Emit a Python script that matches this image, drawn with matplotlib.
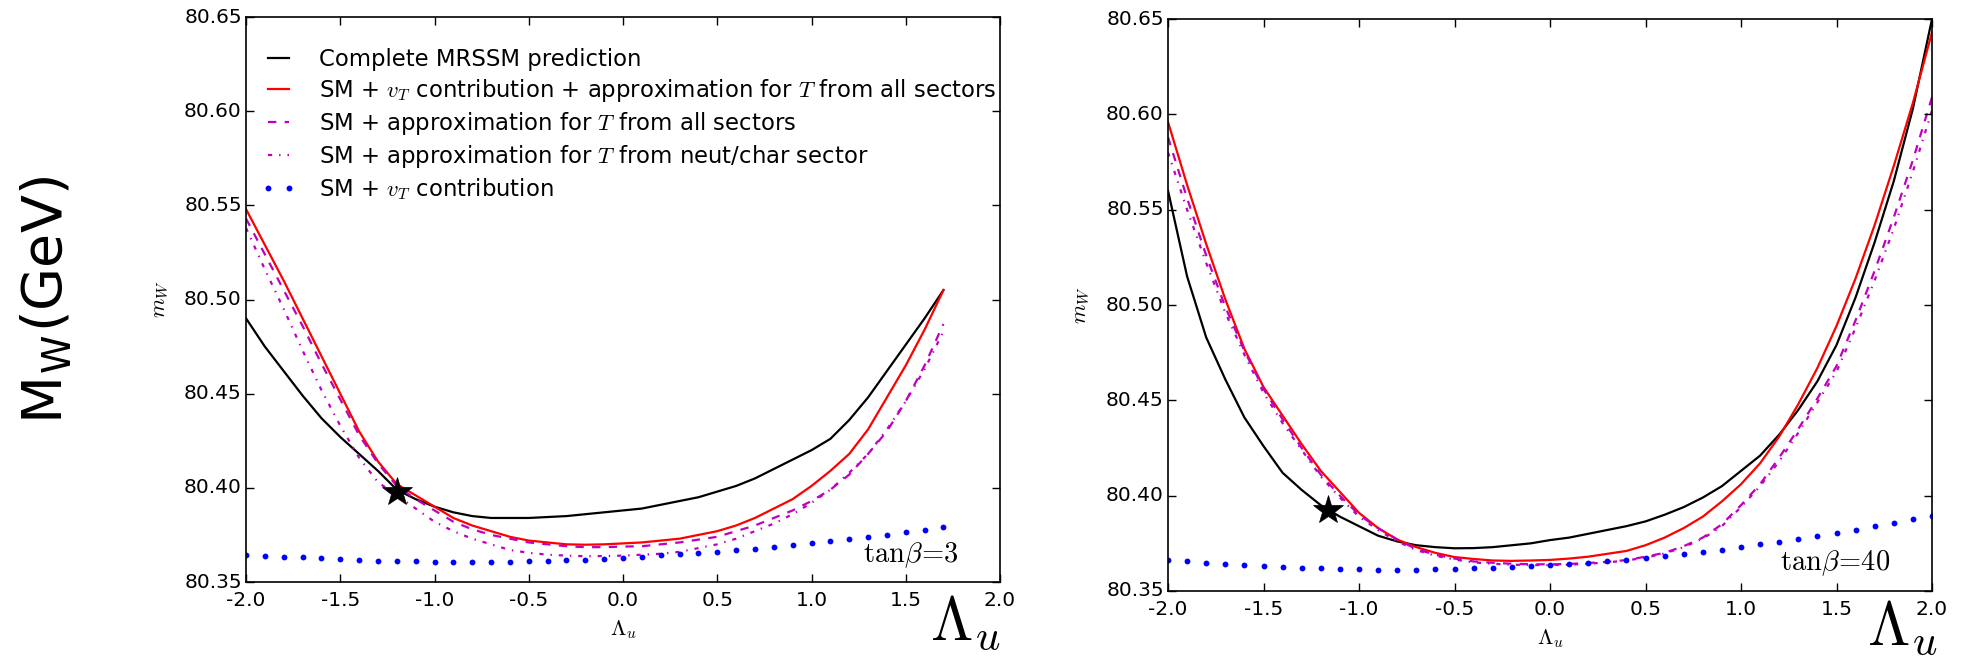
import numpy as np
import matplotlib
matplotlib.use('Agg')
import matplotlib.pyplot as plt

plt.style.use('classic')
plt.rcParams['font.family'] = ['DejaVu Sans']
plt.rcParams['mathtext.fontset'] = 'cm'

# tan(beta) = 3 scan, Lambda_u from -2.0 to 1.7
lam_3 = np.round(np.arange(-2.0, 1.71, 0.1), 1)
mw_full_3 = [80.490, 80.475, 80.462, 80.449, 80.437, 80.427, 80.418, 80.409, 80.399, 80.394,
             80.390, 80.387, 80.385, 80.384, 80.384, 80.384, 80.3845, 80.385, 80.386, 80.387,
             80.388, 80.389, 80.391, 80.393, 80.395, 80.398, 80.401, 80.405, 80.410, 80.415,
             80.420, 80.426, 80.436, 80.448, 80.462, 80.476, 80.490, 80.505]
mw_vt_all_3 = [80.548, 80.529, 80.510, 80.490, 80.470, 80.450, 80.430, 80.414, 80.402, 80.396,
               80.390, 80.384, 80.380, 80.377, 80.374, 80.372, 80.371, 80.370, 80.3698, 80.370,
               80.3705, 80.371, 80.372, 80.373, 80.375, 80.377, 80.380, 80.384, 80.389, 80.394,
               80.401, 80.409, 80.418, 80.431, 80.448, 80.465, 80.484, 80.505]
mw_all_3 = [80.543, 80.524, 80.505, 80.486, 80.466, 80.447, 80.428, 80.413, 80.401, 80.394,
            80.388, 80.382, 80.378, 80.375, 80.373, 80.371, 80.370, 80.369, 80.3685, 80.3685,
            80.3688, 80.369, 80.370, 80.371, 80.3725, 80.374, 80.377, 80.380, 80.384, 80.388,
            80.393, 80.399, 80.407, 80.418, 80.430, 80.446, 80.465, 80.487]
mw_neut_3 = [80.538, 80.516, 80.495, 80.473, 80.452, 80.433, 80.416, 80.403, 80.396, 80.389,
             80.382, 80.377, 80.373, 80.370, 80.367, 80.3655, 80.3645, 80.364, 80.3637, 80.3638,
             80.364, 80.3645, 80.365, 80.366, 80.368, 80.370, 80.373, 80.377, 80.381, 80.386,
             80.392, 80.399, 80.408, 80.418, 80.431, 80.446, 80.463, 80.483]
mw_vt_3 = [80.3645, 80.3640, 80.3635, 80.3631, 80.3626, 80.3620, 80.3617, 80.3613, 80.3612, 80.3610,
           80.3608, 80.3606, 80.3606, 80.3608, 80.3608, 80.3610, 80.3613, 80.3615, 80.3619, 80.3622,
           80.3627, 80.3635, 80.3642, 80.3647, 80.3652, 80.3661, 80.3668, 80.3675, 80.3686, 80.3695,
           80.3705, 80.3716, 80.3728, 80.3741, 80.3751, 80.3765, 80.3778, 80.3792]
star_3 = (-1.2, 80.398)

# tan(beta) = 40 scan, Lambda_u from -2.0 to 2.0
lam_40 = np.round(np.arange(-2.0, 2.01, 0.1), 1)
mw_full_40 = [80.560, 80.515, 80.483, 80.461, 80.441, 80.426, 80.412, 80.403, 80.395, 80.389,
              80.384, 80.379, 80.376, 80.374, 80.373, 80.3724, 80.3725, 80.373, 80.374, 80.375,
              80.3767, 80.378, 80.380, 80.382, 80.384, 80.3865, 80.390, 80.394, 80.399, 80.405,
              80.413, 80.421, 80.432, 80.445, 80.460, 80.479, 80.504, 80.533, 80.565, 80.603,
              80.650]
mw_vt_all_40 = [80.596, 80.563, 80.532, 80.503, 80.477, 80.457, 80.442, 80.427, 80.413, 80.402,
                80.391, 80.383, 80.377, 80.373, 80.370, 80.3678, 80.3668, 80.366, 80.3658, 80.366,
                80.3663, 80.367, 80.368, 80.3695, 80.371, 80.374, 80.378, 80.383, 80.389, 80.397,
                80.406, 80.417, 80.431, 80.448, 80.467, 80.489, 80.514, 80.542, 80.573, 80.606,
                80.643]
mw_all_40 = [80.588, 80.556, 80.526, 80.499, 80.476, 80.456, 80.440, 80.425, 80.411, 80.400,
             80.390, 80.383, 80.377, 80.372, 80.369, 80.367, 80.3655, 80.3648, 80.3643, 80.364,
             80.364, 80.3642, 80.3647, 80.3653, 80.3662, 80.368, 80.370, 80.3735, 80.378, 80.385,
             80.395, 80.406, 80.420, 80.435, 80.451, 80.468, 80.492, 80.518, 80.546, 80.576,
             80.609]
mw_neut_40 = [80.580, 80.550, 80.522, 80.496, 80.474, 80.454, 80.438, 80.424, 80.410, 80.399,
              80.389, 80.382, 80.376, 80.3715, 80.3685, 80.3665, 80.365, 80.3643, 80.3638, 80.3636,
              80.3636, 80.3638, 80.3643, 80.365, 80.366, 80.3675, 80.3697, 80.373, 80.3775, 80.384,
              80.394, 80.405, 80.418, 80.433, 80.449, 80.465, 80.488, 80.513, 80.540, 80.570,
              80.602]
mw_vt_40 = [80.3663, 80.3657, 80.3649, 80.3642, 80.3636, 80.3631, 80.3626, 80.3622, 80.3619, 80.3615,
            80.3614, 80.3612, 80.3612, 80.3612, 80.3614, 80.3615, 80.3619, 80.3622, 80.3626, 80.3631,
            80.3636, 80.3642, 80.3649, 80.3656, 80.3664, 80.3673, 80.3685, 80.3696, 80.3706, 80.3717,
            80.3731, 80.3745, 80.3759, 80.3773, 80.3788, 80.3806, 80.3822, 80.3839, 80.3858, 80.3876,
            80.3895]
star_40 = (-1.16, 80.3925)

labels = ['Complete MRSSM prediction',
          'SM + $v_T$ contribution + approximation for $T$ from all sectors',
          'SM + approximation for $T$ from all sectors',
          'SM + approximation for $T$ from neut/char sector',
          'SM + $v_T$ contribution']

W, H = 1964, 664
fig = plt.figure(figsize=(W / 100, H / 100), dpi=100, facecolor='white')
ax1 = fig.add_axes([246 / W, 1 - 582 / H, 754 / W, 565 / H])
ax2 = fig.add_axes([1168 / W, 1 - 591 / H, 764 / W, 572 / H])


def draw(ax, lam, full, vt_all, allsec, neut, vt, star, tanb):
    ax.plot(lam, full, color='k', lw=1.6, label=labels[0])
    ax.plot(lam, vt_all, color='r', lw=1.6, label=labels[1])
    ax.plot(lam, allsec, color='m', lw=1.6, ls='--', label=labels[2])
    ax.plot(lam, neut, color='m', lw=1.6, ls='-.', label=labels[3])
    ax.plot(lam, vt, color='b', ls='none', marker='o', ms=4.2, mec='b', mew=0,
            label=labels[4])
    ax.plot([star[0]], [star[1]], color='k', marker='*', ms=22, ls='none', clip_on=False)
    ax.set_xlim(-2.0, 2.0)
    ax.set_ylim(80.35, 80.65)
    ax.set_xticks(np.arange(-2.0, 2.01, 0.5))
    ax.set_yticks(np.arange(80.35, 80.651, 0.05))
    ax.xaxis.set_major_formatter(plt.FormatStrFormatter('%.1f'))
    ax.yaxis.set_major_formatter(plt.FormatStrFormatter('%.2f'))
    ax.tick_params(labelsize=14.5, direction='in', length=6, width=1,
                   top=True, right=True)
    ax.tick_params(axis='x', pad=6.5)
    ax.tick_params(axis='y', pad=3)
    for s in ax.spines.values():
        s.set_linewidth(1.2)
    ax.set_xlabel(r'$\Lambda_u$', fontsize=16)
    ax.set_ylabel(r'$m_W$', fontsize=16)
    ax.xaxis.set_label_coords(0.5, -0.064)
    ax.yaxis.set_label_coords(-0.1, 0.5)
    ax.text(0.945, 0.048, r'$\mathrm{tan}\beta\!=\!%d$' % tanb, transform=ax.transAxes,
            ha='right', va='center', fontsize=20.5)


draw(ax1, lam_3, mw_full_3, mw_vt_all_3, mw_all_3, mw_neut_3, mw_vt_3, star_3, 3)
draw(ax2, lam_40, mw_full_40, mw_vt_all_40, mw_all_40, mw_neut_40, mw_vt_40, star_40, 40)

ax1.legend(loc='upper left', bbox_to_anchor=(0.0, 0.972), frameon=False, fontsize=16.4,
           numpoints=2, handlelength=1.5, labelspacing=0.26, borderaxespad=0.27,
           handletextpad=1.05)

fig.text(46 / W, 1 - 300 / H, r'M$_\mathregular{W}$(GeV)', rotation=90,
         ha='center', va='center', fontsize=40)
fig.text(1000 / W, 1 - 653 / H, r'$\Lambda_u$', ha='right', va='bottom', fontsize=44)
fig.text(1937 / W, 1 - 658 / H, r'$\Lambda_u$', ha='right', va='bottom', fontsize=44)

fig.savefig('out.png', dpi=100, facecolor='white')
